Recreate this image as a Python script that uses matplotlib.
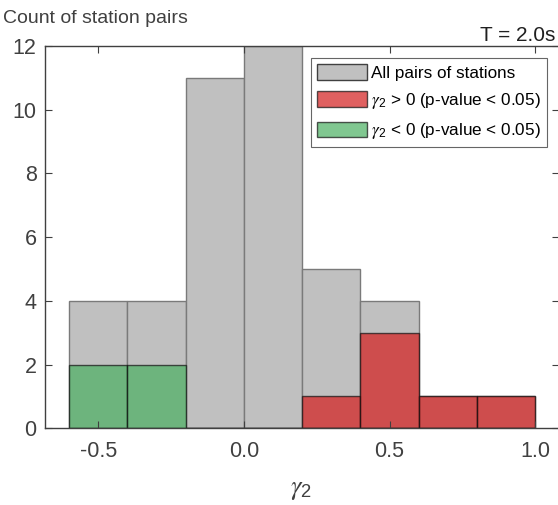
import numpy as np
import matplotlib
matplotlib.use('Agg')
import matplotlib.pyplot as plt
from matplotlib.patches import Patch

plt.rcParams['font.family'] = ['Liberation Sans', 'DejaVu Sans']
plt.rcParams['mathtext.fontset'] = 'custom'
plt.rcParams['mathtext.rm'] = 'Liberation Sans'
plt.rcParams['mathtext.sf'] = 'Liberation Sans'
plt.rcParams['mathtext.it'] = 'STIXGeneral:italic'

# histogram data (bin width 0.2)
bin_edges = [-0.6, -0.4, -0.2, 0.0, 0.2, 0.4, 0.6, 0.8, 1.0]
all_counts = [4, 4, 11, 12, 5, 4, 1, 1]
pos_counts = [0, 0, 0, 0, 1, 3, 1, 1]
neg_counts = [2, 2, 0, 0, 0, 0, 0, 0]

left = np.array(bin_edges[:-1])
width = np.diff(bin_edges)

axc = '#404040'
red = (0.83, 0.11, 0.11)
green = (0.29, 0.69, 0.38)

fig = plt.figure(figsize=(5.58, 5.05), dpi=100)
ax = fig.add_axes([0.0806, 0.1519, 0.9203, 0.757])

ax.bar(left, all_counts, width=width, align='edge', color='#c0c0c0',
       edgecolor='#7a7a7a', linewidth=1.0)
ax.bar(left, pos_counts, width=width, align='edge', color=red,
       alpha=0.7, edgecolor='#101010', linewidth=1.0)
ax.bar(left, neg_counts, width=width, align='edge', color=green,
       alpha=0.7, edgecolor='#101010', linewidth=1.0)

ax.set_xlim(-0.683, 1.08)
ax.set_ylim(0, 12)
ax.set_xticks([-0.5, 0.0, 0.5, 1.0])
ax.set_xticklabels(['-0.5', '0.0', '0.5', '1.0'])
ax.set_yticks(range(0, 13, 2))
ax.tick_params(direction='in', length=5, colors=axc, labelsize=15.5,
               top=True, right=True)
ax.tick_params(axis='x', pad=9)
ax.tick_params(axis='y', pad=6)
for s in ax.spines.values():
    s.set_color(axc)
    s.set_linewidth(1.0)

fig.text(301.5 / 558, 1 - 490 / 505, r'$\gamma_\mathsf{2}$', fontsize=19,
         color=axc, ha='center', va='center')
fig.text(0.006, 0.964, 'Count of station pairs', fontsize=14, color=axc,
         ha='left', va='center')
fig.text(0.995, 0.929, 'T = 2.0s', fontsize=15, color='#202020',
         ha='right', va='center')

handles = [
    Patch(facecolor='#c0c0c0', edgecolor='#404040', label='All pairs of stations'),
    Patch(facecolor=red, alpha=0.7, edgecolor='#101010',
          label=r'$\gamma_\mathsf{2}$ > 0 (p-value < 0.05)'),
    Patch(facecolor=green, alpha=0.7, edgecolor='#101010',
          label=r'$\gamma_\mathsf{2}$ < 0 (p-value < 0.05)'),
]
leg = ax.legend(handles=handles, loc='upper left', bbox_to_anchor=(0.5185, 0.968),
                fontsize=12.3, frameon=True, fancybox=False, handlelength=2.9,
                handleheight=1.0, handletextpad=0.25, borderpad=0.35,
                labelspacing=0.6, borderaxespad=0)
leg.get_frame().set_edgecolor('#404040')
leg.get_frame().set_linewidth(0.8)

fig.savefig('out.png', dpi=100)
